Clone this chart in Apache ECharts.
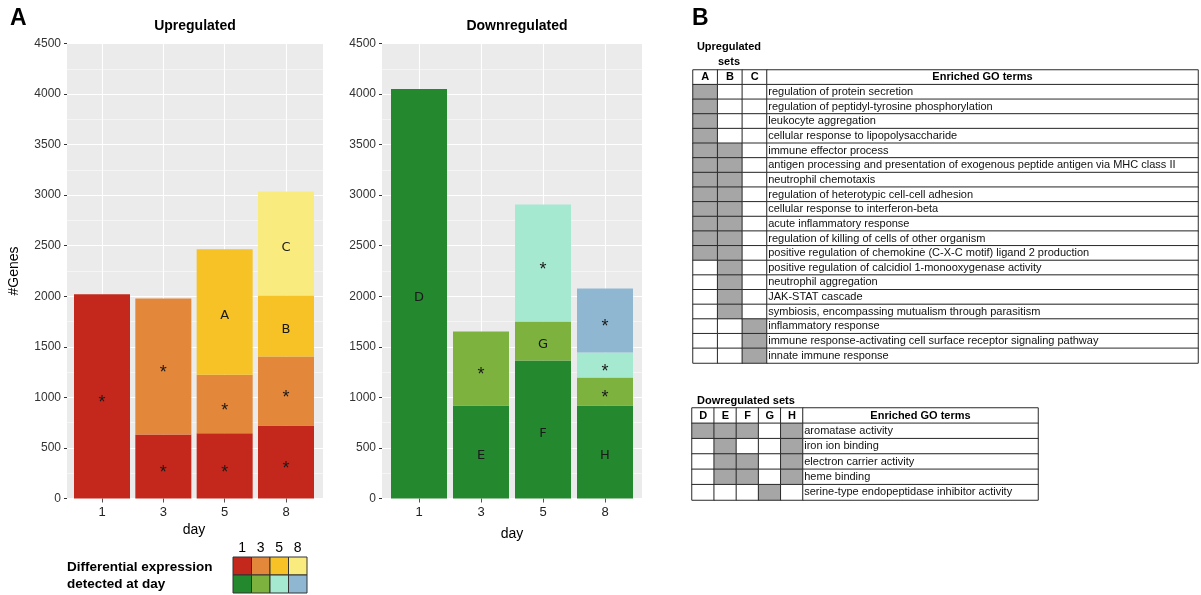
<!DOCTYPE html>
<html><head><meta charset="utf-8">
<script src="https://cdn.jsdelivr.net/npm/echarts@6/dist/echarts.min.js"></script>
<style>html,body{margin:0;padding:0;background:#fff}#c{width:1201px;height:595px}</style>
</head><body><div id="c"></div>
<script>
// ---------- data ----------
const days = ['1', '3', '5', '8'];
const yTicks = [0, 4500, 500]; // min, max, step

// Upregulated: genes per day, split by first day of detection
const upDetected1 = [2020, 633, 645, 722];
const upDetected3 = [null, 1345, 580, 682];
const upDetected5 = [null, null, 1240, 604];
const upDetected8 = [null, null, null, 1028];
const upLabels1 = ['*', '*', '*', '*'];
const upLabels3 = ['', '*', '*', '*'];
const upLabels5 = ['', '', 'A', 'B'];
const upLabels8 = ['', '', '', 'C'];

// Downregulated
const downDetected1 = [4050, 920, 1365, 920];
const downDetected3 = [null, 732, 386, 277];
const downDetected5 = [null, null, 1157, 247];
const downDetected8 = [null, null, null, 633];
const downLabels1 = ['D', 'E', 'F', 'H'];
const downLabels3 = ['', '*', 'G', '*'];
const downLabels5 = ['', '', '*', '*'];
const downLabels8 = ['', '', '', '*'];

const upColors = ['#C4281C', '#E3873A', '#F6C225', '#F9EB7E'];
const downColors = ['#24882F', '#7EB23F', '#A5E9D1', '#90B7D2'];

// GO tables
const upSets = ['A', 'B', 'C'];
const upTerms = [
  'regulation of protein secretion',
  'regulation of peptidyl-tyrosine phosphorylation',
  'leukocyte aggregation',
  'cellular response to lipopolysaccharide',
  'immune effector process',
  'antigen processing and presentation of exogenous peptide antigen via MHC class II',
  'neutrophil chemotaxis',
  'regulation of heterotypic cell-cell adhesion',
  'cellular response to interferon-beta',
  'acute inflammatory response',
  'regulation of killing of cells of other organism',
  'positive regulation of chemokine (C-X-C motif) ligand 2 production',
  'positive regulation of calcidiol 1-monooxygenase activity',
  'neutrophil aggregation',
  'JAK-STAT cascade',
  'symbiosis, encompassing mutualism through parasitism',
  'inflammatory response',
  'immune response-activating cell surface receptor signaling pathway',
  'innate immune response'
];
const upInA = [1,1,1,1,1,1,1,1,1,1,1,1,0,0,0,0,0,0,0];
const upInB = [0,0,0,0,1,1,1,1,1,1,1,1,1,1,1,1,0,0,0];
const upInC = [0,0,0,0,0,0,0,0,0,0,0,0,0,0,0,0,1,1,1];

const downSets = ['D', 'E', 'F', 'G', 'H'];
const downTerms = [
  'aromatase activity',
  'iron ion binding',
  'electron carrier activity',
  'heme binding',
  'serine-type endopeptidase inhibitor activity'
];
const downInD = [1,0,0,0,0];
const downInE = [1,1,1,1,0];
const downInF = [1,0,1,1,0];
const downInG = [0,0,0,0,1];
const downInH = [1,1,1,1,0];

// ---------- chart ----------
const FONT = 'Liberation Sans';
const chart = echarts.init(document.getElementById('c'), null, {renderer: 'canvas'});

const PT = 43.5, PH = 455;
const grids = [
  {left: 67, top: PT, width: 256, height: PH, show: true, backgroundColor: '#EBEBEB', borderWidth: 0},
  {left: 102, top: PT, width: 184, height: PH},
  {left: 382, top: PT, width: 260, height: PH, show: true, backgroundColor: '#EBEBEB', borderWidth: 0},
  {left: 419, top: PT, width: 186, height: PH},
  {left: 693, top: 70, width: 74, height: 293},
  {left: 767, top: 70, width: 431, height: 293},
  {left: 692, top: 408, width: 111, height: 92},
  {left: 803, top: 408, width: 235, height: 92}
];

function bgY(gi, withName) {
  return {
    gridIndex: gi, type: 'value', min: yTicks[0], max: yTicks[1], interval: yTicks[2], offset: 4,
    axisLine: {show: false},
    axisTick: {show: true, length: 3, lineStyle: {color: '#333'}},
    axisLabel: {margin: 2, color: '#333', fontSize: 12, fontFamily: FONT, formatter: v => String(v)},
    splitLine: {show: true, lineStyle: {color: '#FFFFFF', width: 1.1}},
    minorTick: {show: false, splitNumber: 2},
    minorSplitLine: {show: true, lineStyle: {color: '#F5F5F5', width: 1}},
    name: withName ? '#Genes' : '', nameLocation: 'middle', nameGap: 42,
    nameTextStyle: {color: '#000', fontSize: 14, fontFamily: FONT}
  };
}
function barX(gi, gap) {
  return {
    gridIndex: gi, type: 'category', data: days, boundaryGap: false,
    axisLine: {show: false},
    axisTick: {show: true, length: 4, lineStyle: {color: '#555'}},
    axisLabel: {margin: 7, color: '#222', fontSize: 13, fontFamily: FONT},
    splitLine: {show: true, lineStyle: {color: '#FFFFFF', width: 1.1}},
    name: 'day', nameLocation: 'middle', nameGap: gap,
    nameTextStyle: {color: '#000', fontSize: 14, fontFamily: FONT}
  };
}
const hidY = gi => ({gridIndex: gi, type: 'value', min: yTicks[0], max: yTicks[1], show: false});
const hidX = gi => ({gridIndex: gi, type: 'value', min: 0, max: 1, show: false});
const catX = (gi, d) => ({gridIndex: gi, type: 'category', data: d, show: false});
const catY = (gi, d) => ({gridIndex: gi, type: 'category', data: d, show: false, inverse: true});

const upRows = ['header'].concat(upTerms);
const downRows = ['header'].concat(downTerms);

const xAxes = [hidX(0), barX(1, 24), hidX(2), barX(3, 29),
  catX(4, upSets), catX(5, ['terms']), catX(6, downSets), catX(7, ['terms'])];
const yAxes = [bgY(0, true), hidY(1), bgY(2, false), hidY(3),
  catY(4, upRows), catY(5, upRows), catY(6, downRows), catY(7, downRows)];

const series = [];
function stackSeries(values, labels, colors, axisIdx, stackName) {
  values.forEach((vals, k) => {
    series.push({
      type: 'bar', xAxisIndex: axisIdx, yAxisIndex: axisIdx, stack: stackName,
      data: vals, barWidth: 56, clip: false, silent: true,
      itemStyle: {color: colors[k]},
      label: {show: true, position: 'inside', color: '#1a1a1a', fontFamily: 'DejaVu Sans',
        formatter: p => labels[k][p.dataIndex] || '',
        rich: {}, fontSize: 13, offset: [0, 4]},
      emphasis: {disabled: true}
    });
  });
}
stackSeries([upDetected1, upDetected3, upDetected5, upDetected8],
  [upLabels1, upLabels3, upLabels5, upLabels8], upColors, 1, 'up');
stackSeries([downDetected1, downDetected3, downDetected5, downDetected8],
  [downLabels1, downLabels3, downLabels5, downLabels8], downColors, 3, 'down');
// larger asterisks like the reference
series.forEach(s => {
  const f = s.label.formatter;
  s.label.formatter = p => { const t = f(p); return t === '*' ? '{s|*}' : t; };
  s.label.rich = {s: {fontSize: 18, fontFamily: FONT, color: '#1a1a1a', padding: [6, 0, 0, 0]}};
});

const heatIdx = [];
const cellStyle = {borderColor: '#2a2a2a', borderWidth: 1};
const TFONT = 'Liberation Sans';
const TSIZE = 11;
function tableSeries(sets, members, terms, gM, gT) {
  const mData = [];
  sets.forEach((s, i) => {
    mData.push([i, 0, 2]);
    members[i].forEach((v, r) => mData.push([i, r + 1, v]));
  });
  heatIdx.push(series.length);
  series.push({
    type: 'heatmap', xAxisIndex: gM, yAxisIndex: gM, data: mData, silent: true,
    itemStyle: cellStyle, emphasis: {disabled: true},
    label: {show: true, color: '#000', fontSize: TSIZE, fontWeight: 'bold', fontFamily: TFONT,
      formatter: p => p.value[1] === 0 ? sets[p.value[0]] : ''}
  });
  heatIdx.push(series.length);
  series.push({
    type: 'heatmap', xAxisIndex: gT, yAxisIndex: gT, data: [[0, 0, 2]], silent: true,
    itemStyle: cellStyle, emphasis: {disabled: true},
    label: {show: true, color: '#000', fontSize: TSIZE, fontWeight: 'bold', fontFamily: TFONT,
      formatter: () => 'Enriched GO terms'}
  });
  heatIdx.push(series.length);
  series.push({
    type: 'heatmap', xAxisIndex: gT, yAxisIndex: gT, silent: true,
    data: terms.map((t, r) => [0, r + 1, 0]),
    itemStyle: cellStyle, emphasis: {disabled: true},
    label: {show: true, position: 'insideLeft', distance: 2, color: '#111', fontSize: TSIZE, fontFamily: TFONT,
      formatter: p => terms[p.value[1] - 1]}
  });
}
tableSeries(upSets, [upInA, upInB, upInC], upTerms, 4, 5);
tableSeries(downSets, [downInD, downInE, downInF, downInG, downInH], downTerms, 6, 7);

// graphic texts and the colour key
const graphics = [];
function txt(x, y, text, font, align) {
  graphics.push({type: 'text', x: x, y: y, silent: true,
    style: {text: text, font: font, fill: '#000', align: align || 'center', verticalAlign: 'middle'}});
}
txt(10, 19, 'A', 'bold 23px ' + FONT, 'left');
txt(692, 19, 'B', 'bold 23px ' + FONT, 'left');
txt(195, 26, 'Upregulated', 'bold 14px ' + FONT);
txt(517, 26, 'Downregulated', 'bold 14px ' + FONT);
txt(729, 47, 'Upregulated', 'bold 11px ' + TFONT);
txt(729, 62, 'sets', 'bold 11px ' + TFONT);
txt(697, 401, 'Dowregulated sets', 'bold 11px ' + TFONT, 'left');
txt(67, 567, 'Differential expression', 'bold 13.5px ' + FONT, 'left');
txt(67, 584, 'detected at day', 'bold 13.5px ' + FONT, 'left');
const KX = 233, KY = 557, KW = 18.5, KH = 18;
days.forEach((d, i) => {
  txt(KX + KW * i + KW / 2, 548, d, '14px ' + FONT);
  [upColors, downColors].forEach((cols, r) => {
    graphics.push({type: 'rect', silent: true,
      shape: {x: KX + KW * i, y: KY + KH * r, width: KW, height: KH},
      style: {fill: cols[i], stroke: '#333', lineWidth: 1}});
  });
});

chart.setOption({
  animation: false,
  grid: grids,
  xAxis: xAxes,
  yAxis: yAxes,
  visualMap: {
    type: 'piecewise', show: false, dimension: 2, seriesIndex: heatIdx,
    pieces: [{value: 0, color: '#FFFFFF'}, {value: 1, color: '#A6A6A6'}, {value: 2, color: '#FFFFFF'}]
  },
  series: series,
  graphic: graphics
});
</script></body></html>
